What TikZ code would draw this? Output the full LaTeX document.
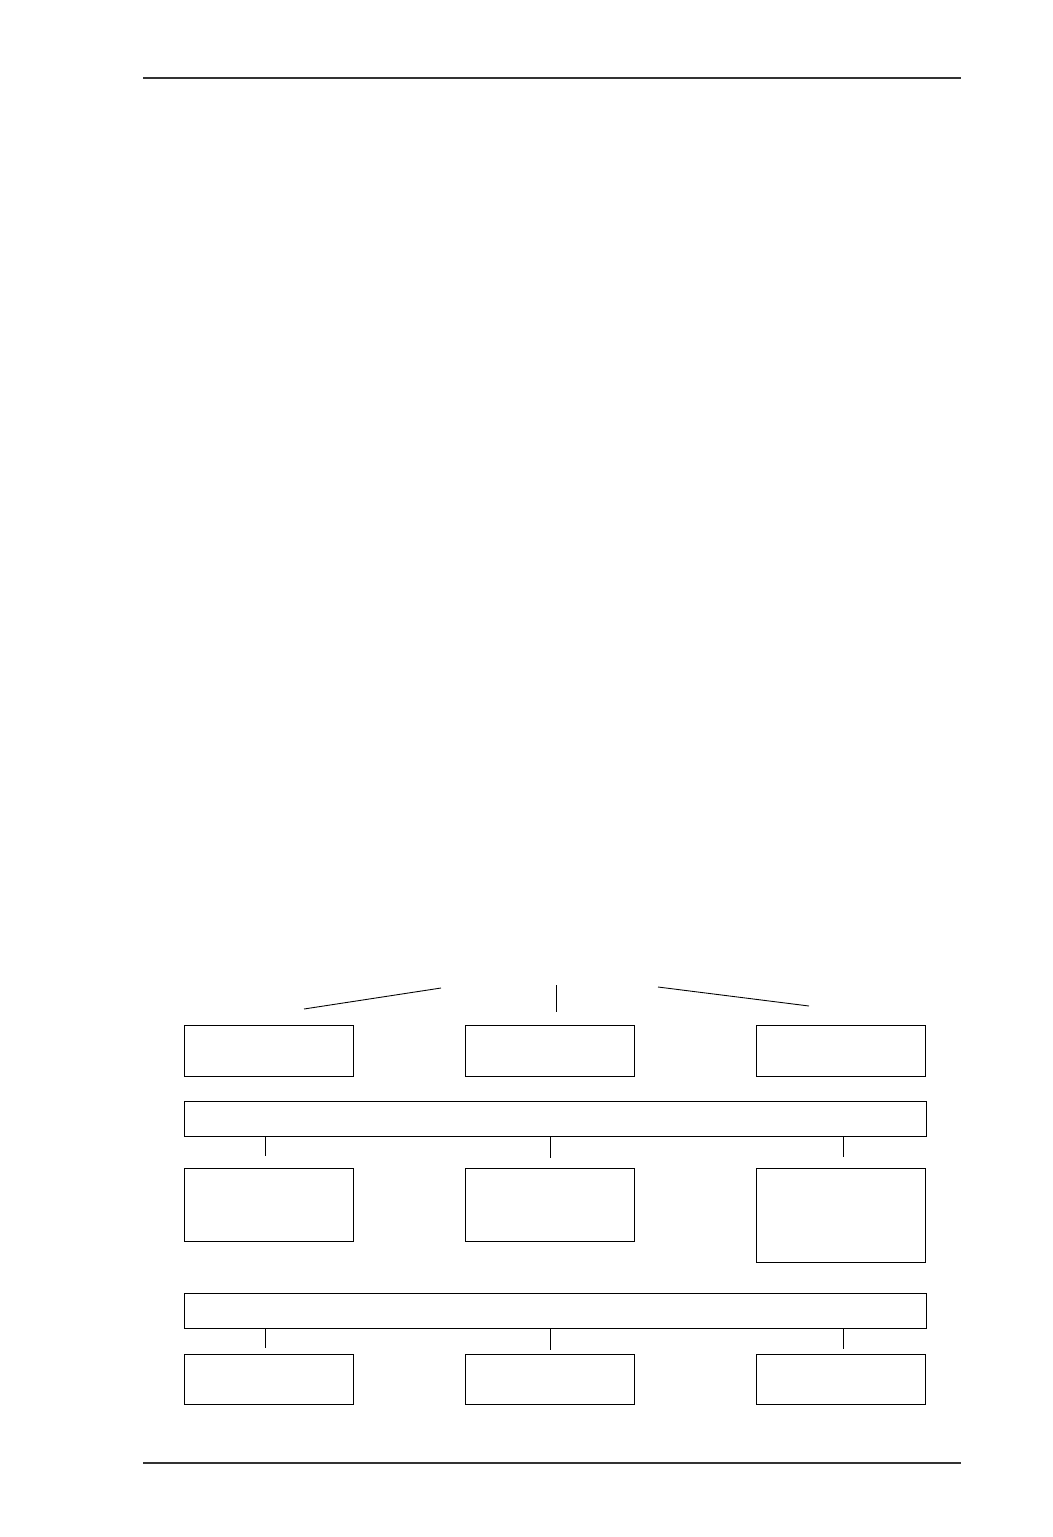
\documentclass[tikz,border=0pt]{standalone}
\usetikzlibrary{positioning}

\tikzset{
  box/.style={draw, line width=0.5pt, inner sep=0pt, anchor=north west,
              minimum width=3.38cm},
  bar/.style={draw, line width=0.5pt, inner sep=0pt, anchor=north west,
              minimum width=14.84cm, minimum height=0.7cm},
  rule/.style={line width=0.9pt, color=black!80}
}

\begin{document}
\begin{tikzpicture}[x=0.02cm,y=-0.02cm]
    \useasboundingbox (0,0) rectangle (1053,1537);

    % Page rules
    \coordinate (toprule-l) at (143,78);
    \coordinate (toprule-r) at (961,78);
    \coordinate (botrule-l) at (143,1463);
    \coordinate (botrule-r) at (961,1463);
    \draw[rule] (toprule-l) -- (toprule-r);
    \draw[rule] (botrule-l) -- (botrule-r);

    % Lines above the first row
    \coordinate (lin-a) at (304,1009);
    \coordinate (lin-b) at (441,988);
    \coordinate (mid-a) at (556,985);
    \coordinate (mid-b) at (556,1012);
    \coordinate (rin-a) at (658,987);
    \coordinate (rin-b) at (809,1006);
    \draw[line width=0.5pt] (lin-a) -- (lin-b);
    \draw[line width=0.5pt] (mid-a) -- (mid-b);
    \draw[line width=0.5pt] (rin-a) -- (rin-b);

    % First row
    \node[box, minimum height=1.02cm] (top1) at (184,1025) {};
    \node[box, minimum height=1.02cm] (top2) at (465,1025) {};
    \node[box, minimum height=1.02cm] (top3) at (756,1025) {};

    % First bar and its row
    \node[bar] (bar1) at (184,1101) {};
    \node[box, minimum height=1.46cm] (mid1) at (184,1168) {};
    \node[box, minimum height=1.46cm] (mid2) at (465,1168) {};
    \node[box, minimum height=1.88cm] (mid3) at (756,1168) {};

    % Second bar and its row
    \node[bar] (bar2) at (184,1293) {};
    \node[box, minimum height=1.0cm] (low1) at (184,1354) {};
    \node[box, minimum height=1.0cm] (low2) at (465,1354) {};
    \node[box, minimum height=1.0cm] (low3) at (756,1354) {};

    % Ticks under the bars
    \foreach \name/\xpos/\yend in {a/265/1156, b/550/1158, c/843/1157}
    {
      \coordinate (tick1\name) at (\xpos,\yend);
      \draw[line width=0.5pt] (bar1.south -| tick1\name) -- (tick1\name);
    };
    \foreach \name/\xpos/\yend in {a/265/1348, b/550/1350, c/843/1349}
    {
      \coordinate (tick2\name) at (\xpos,\yend);
      \draw[line width=0.5pt] (bar2.south -| tick2\name) -- (tick2\name);
    };

\end{tikzpicture}
\end{document}
